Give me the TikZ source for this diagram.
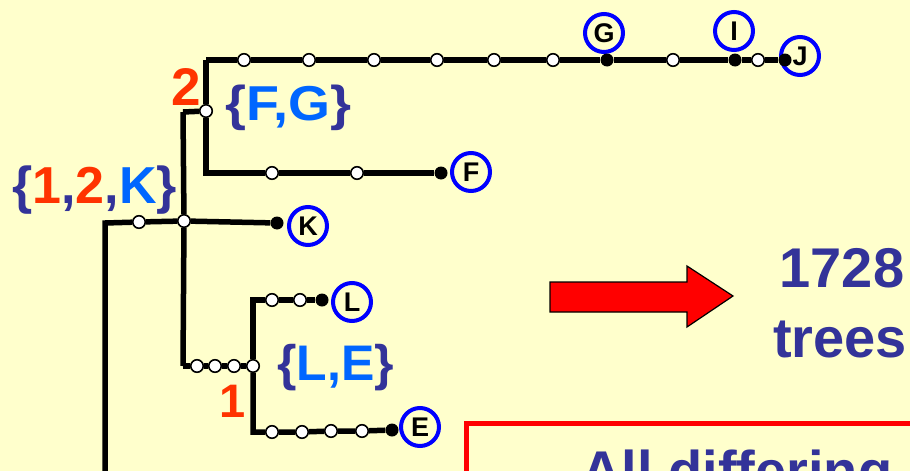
\documentclass[tikz,border=0pt]{standalone}
\usepackage{fontspec}
\setmainfont{Liberation Sans}
\definecolor{bg}{HTML}{FFFFCC}
\definecolor{dblue}{HTML}{333399}
\definecolor{lblue}{HTML}{0066FF}
\definecolor{ored}{HTML}{FF3300}
\definecolor{cblue}{HTML}{0000FF}
\newcommand{\fsz}[1]{\fontsize{#1}{#1}\selectfont\bfseries}
\begin{document}
\begin{tikzpicture}[x=1pt,y=-1pt,
  tree/.style={line width=5.5pt, black},
  opn/.style={circle, draw=black, fill=white, line width=1.6pt, inner sep=0pt, minimum size=12.5pt},
  fil/.style={circle, fill=black, inner sep=0pt, minimum size=13pt},
  leaf/.style={circle, draw=cblue, line width=4pt, minimum size=38pt, inner sep=0pt, font=\fsz{27}},
  txt/.style={inner sep=0pt, anchor=base west}]
\useasboundingbox (0,0) rectangle (910,471);
\clip (0,0) rectangle (910,471);
\fill[bg] (-5,-5) rectangle (915,476);

% red box (cut by frame)
\draw[red, line width=5pt] (466,423) rectangle (1000,620);
\node[txt, font=\fsz{56}, text=dblue] (diff) at (581,490) {All differing};

% arrow
\draw[fill=red, draw=black, line width=1.2pt, line join=miter]
  (550,282) -- (687,282) -- (687,266) -- (733,296) -- (687,327) -- (687,312) -- (550,312) -- cycle;

% result text
\node[inner sep=0pt, anchor=base, font=\fsz{56}, text=dblue] (n1728) at (842,287) {1728};
\node[inner sep=0pt, anchor=base, font=\fsz{56}, text=dblue] (trees) at (840,357) {trees};

% coordinates of corners
\coordinate (root) at (105,490);
\coordinate (r1) at (105,223);
\coordinate (vtop) at (183,112);
\coordinate (vbot) at (183,366);
\coordinate (ttop) at (206,60);
\coordinate (tbot) at (206,173);
\coordinate (lc) at (253,300);
\coordinate (ec) at (253,432);

% leaf circles
\node[leaf] (K) at (308,226) {K};
\node[leaf] (F) at (471,172) {F};
\node[leaf] (G) at (604,33) {G};
\node[leaf] (I) at (734,31) {I};
\node[leaf] (J) at (800,56) {J};
\node[leaf] (L) at (352,302) {L};
\node[leaf] (E) at (420,427) {E};

% tree dots
\node[opn] (a) at (139,222) {};
\node[opn] (n0) at (184,221) {};
\node[fil] (kd) at (277,223) {};
\node[opn] (n2) at (206,111) {};
\node[opn] (t1) at (244,60) {};
\node[opn] (t2) at (309,60) {};
\node[opn] (t3) at (374,60) {};
\node[opn] (t4) at (437,60) {};
\node[opn] (t5) at (494,60) {};
\node[opn] (t6) at (553,60) {};
\node[fil] (gd) at (607,60) {};
\node[opn] (t7) at (673,60) {};
\node[fil] (id) at (735,60) {};
\node[opn] (t8) at (758,60) {};
\node[fil] (jd) at (785,60) {};
\node[opn] (b1) at (272,173) {};
\node[opn] (b2) at (357,173) {};
\node[fil] (fd) at (441,173) {};
\node[opn] (h1) at (197,366) {};
\node[opn] (h2) at (215,366) {};
\node[opn] (h3) at (234,366) {};
\node[opn] (n1) at (253,366) {};
\node[opn] (l1) at (272,300) {};
\node[opn] (l2) at (300,300) {};
\node[fil] (ld) at (322,300) {};
\node[opn] (e1) at (272,432) {};
\node[opn] (e2) at (302,432) {};
\node[opn] (e3) at (331,431) {};
\node[opn] (e4) at (362,431) {};
\node[fil] (ed) at (392,430) {};

% tree edges
\draw[tree, line join=miter] (root) -- (r1) -- (a);
\draw[tree] (a) -- (n0);
\draw[tree] (n0) -- (kd);
\draw[tree] (vtop) -- (n0);
\draw[tree] (n0) -- (vbot);
\draw[tree] (vtop) -- (n2);
\draw[tree] (n2) -- (ttop);
\draw[tree] (ttop) -- (t1) -- (t2) -- (t3) -- (t4) -- (t5) -- (t6) -- (gd) -- (t7) -- (id) -- (t8) -- (jd);
\draw[tree] (n2) -- (tbot) -- (b1) -- (b2) -- (fd);
\draw[tree] (vbot) -- (h1) -- (h2) -- (h3) -- (n1);
\draw[tree] (n1) -- (lc) -- (l1) -- (l2) -- (ld);
\draw[tree] (n1) -- (ec) -- (e1) -- (e2) -- (e3) -- (e4) -- (ed);

% labels
\node[txt, font=\fsz{52}] (lab12k) at (12,203)
  {\textcolor{dblue}{\{}\textcolor{ored}{1}\textcolor{dblue}{,}\textcolor{ored}{2}\textcolor{dblue}{,}\textcolor{lblue}{K}\textcolor{dblue}{\}}};
\node[txt, font=\fsz{49}] (labFG) at (225,120)
  {\scalebox{1.1}[1]{\textcolor{dblue}{\{}\textcolor{lblue}{F,G}\textcolor{dblue}{\}}}};
\node[txt, font=\fsz{50}] (labLE) at (277,380)
  {\textcolor{dblue}{\{}\textcolor{lblue}{L,E}\textcolor{dblue}{\}}};
\node[txt, font=\fsz{53}, text=ored] (two) at (171,105) {2};
\node[txt, font=\fsz{47}, text=ored] (one) at (219,417) {1};
\end{tikzpicture}
\end{document}
